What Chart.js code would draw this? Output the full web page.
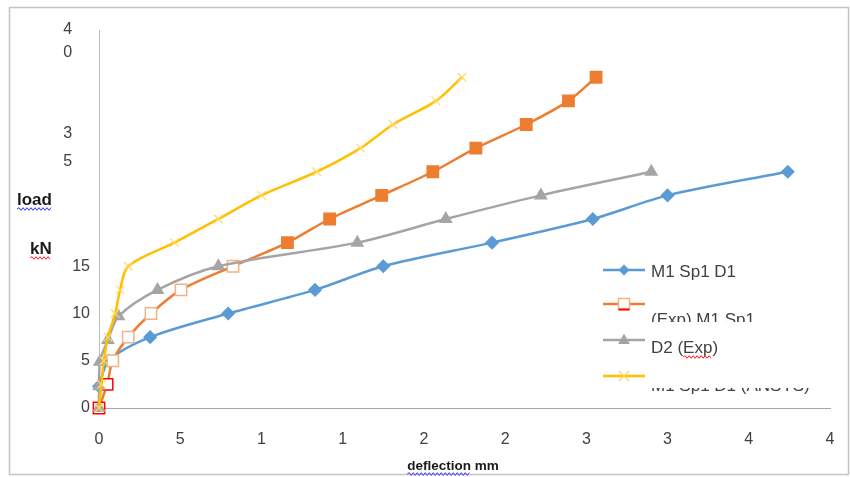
<!DOCTYPE html>
<html>
<head>
<meta charset="utf-8">
<script src="https://cdn.jsdelivr.net/npm/chart.js@4.4.1/dist/chart.umd.min.js"></script>
<style>
  html, body { margin: 0; padding: 0; background: #ffffff; }
  #wrap { width: 850px; height: 477px; }
</style>
</head>
<body>
<div id="wrap"><canvas id="chart" width="850" height="477"></canvas></div>
<script>
// Load (kN) against mid-span deflection (mm) for the four curves.
const seriesNames = ['M1 Sp1 D1', '(Exp) M1 Sp1', 'D2 (Exp)', 'M1 Sp1 D1 (ANSYS)'];

const m1Defl    = [0, 0.6, 3.15, 7.95, 13.3, 17.5, 24.2, 30.4, 35.0, 42.4];
const m1Load    = [2.3, 5, 7.5, 10, 12.5, 15, 17.5, 20, 22.5, 25];

const expDefl   = [0, 0.5, 0.85, 1.8, 3.2, 5.05, 8.25, 11.6, 14.2, 17.4, 20.55, 23.2, 26.3, 28.9, 30.6];
const expLoad   = [0, 2.5, 5, 7.5, 10, 12.5, 15, 17.5, 20, 22.5, 25, 27.5, 30, 32.5, 35];

const d2Defl    = [0, 0, 0.05, 0.55, 1.2, 3.6, 7.35, 15.9, 21.35, 27.2, 34.0];
const d2Load    = [0, 2.3, 4.9, 7.2, 9.7, 12.5, 15, 17.5, 20, 22.5, 25];

const ansysDefl = [0, 0.15, 0.3, 0.55, 1.0, 1.3, 1.8, 4.65, 7.35, 10.0, 13.4, 16.1, 18.1, 20.75, 22.35];
const ansysLoad = [0, 2.5, 5, 7.5, 10, 12.5, 15, 17.5, 20, 22.5, 25, 27.5, 30, 32.5, 35];

// Axis ticks (the y labels 20-30 are blank on this sheet)
const xTicks = [0, 5, 10, 15, 20, 25, 30, 35, 40, 45];
const yTickLabels = { 0: '0', 5: '5', 10: '10', 15: '15', 20: '', 25: '', 30: '', 35: '35', 40: '40' };
const axisTitles = { x: 'deflection mm', yTop: 'load', yBottom: 'kN' };

const BLUE = '#5B9BD5', ORANGE = '#ED7D31', GREY = '#A5A5A5', GOLD = '#FFC000';
const LIGHT_ORANGE = '#F4B183', RED = '#FF0000', LIGHT_GOLD = '#FFD966';
const TEXT = '#404040';
const FAMILY = "'Liberation Sans', Arial, sans-serif";

const pairs = (xs, ys) => xs.map((x, i) => ({ x, y: ys[i] }));

// experimental curve: early readings hollow, later ones filled
const expFill = expLoad.map((v, i) => (i < 7 ? '#ffffff' : ORANGE));
const expEdge = expLoad.map((v, i) => (i < 2 ? RED : i < 7 ? LIGHT_ORANGE : ORANGE));

// Wrapped two-digit labels: one digit per line, pushed down and left
function yLabel(value) {
  const t = yTickLabels[value];
  if (t === undefined) return '';
  if (value === 35) return ['', '', '', '', '', t[0] + '    ', t[1] + '    '];
  if (value === 40) return ['', t[0] + '    ', t[1] + '    '];
  return t;
}

function squiggle(ctx, x0, x1, y, color) {
  ctx.save();
  ctx.strokeStyle = color;
  ctx.lineWidth = 1;
  ctx.beginPath();
  let up = true;
  ctx.moveTo(x0, y);
  for (let x = x0 + 2; x <= x1; x += 2) {
    ctx.lineTo(x, up ? y - 1.3 : y + 1.3);
    up = !up;
  }
  ctx.stroke();
  ctx.restore();
}

function marker(ctx, kind, x, y) {
  ctx.save();
  ctx.lineWidth = 1.5;
  ctx.beginPath();
  if (kind === 'diamond') {
    const r = 5.5;
    ctx.moveTo(x, y - r); ctx.lineTo(x + r, y); ctx.lineTo(x, y + r); ctx.lineTo(x - r, y); ctx.closePath();
    ctx.fillStyle = BLUE; ctx.fill();
  } else if (kind === 'square') {
    const h = 5.5;
    ctx.rect(x - h, y - h, 2 * h, 2 * h);
    ctx.fillStyle = '#ffffff'; ctx.fill();
    ctx.strokeStyle = LIGHT_ORANGE; ctx.stroke();
    ctx.beginPath(); ctx.moveTo(x - h, y + h); ctx.lineTo(x + h, y + h);
    ctx.strokeStyle = RED; ctx.lineWidth = 2; ctx.stroke();
  } else if (kind === 'triangle') {
    const r = 6.5;
    ctx.moveTo(x, y - r); ctx.lineTo(x + r * 0.9, y + r * 0.6); ctx.lineTo(x - r * 0.9, y + r * 0.6); ctx.closePath();
    ctx.fillStyle = GREY; ctx.fill();
  } else if (kind === 'cross') {
    const r = 5;
    ctx.moveTo(x - r, y - r); ctx.lineTo(x + r, y + r);
    ctx.moveTo(x - r, y + r); ctx.lineTo(x + r, y - r);
    ctx.strokeStyle = LIGHT_GOLD; ctx.lineWidth = 1.2; ctx.stroke();
  }
  ctx.restore();
}

const sheet = {
  id: 'sheet',
  beforeDraw(chart) {
    const ctx = chart.ctx;
    ctx.save();
    ctx.fillStyle = '#ffffff';
    ctx.fillRect(0, 0, chart.width, chart.height);
    ctx.strokeStyle = '#C4C4C4';
    ctx.lineWidth = 1.5;
    ctx.strokeRect(9.5, 7.5, 839, 467);
    ctx.restore();
  },
  afterDraw(chart) {
    const ctx = chart.ctx;
    ctx.save();
    ctx.fillStyle = '#1a1a1a';
    ctx.textBaseline = 'alphabetic';
    ctx.textAlign = 'left';

    // axis titles
    ctx.font = 'bold 17px ' + FAMILY;
    ctx.fillText(axisTitles.yTop, 17, 205);
    squiggle(ctx, 17, 17 + ctx.measureText(axisTitles.yTop).width, 209, '#3333ff');
    ctx.fillText(axisTitles.yBottom, 30, 254);
    squiggle(ctx, 30, 30 + ctx.measureText(axisTitles.yBottom).width, 258, '#ff2020');

    ctx.font = 'bold 13.5px ' + FAMILY;
    const tw = ctx.measureText(axisTitles.x).width;
    const tx = 453 - tw / 2;
    ctx.fillText(axisTitles.x, tx, 470);
    squiggle(ctx, tx, tx + ctx.measureText(axisTitles.x.split(' ')[0]).width, 474, '#3333ff');

    // legend
    const rows = [
      { color: BLUE, kind: 'diamond', lineY: 270, textY: 277 },
      { color: ORANGE, kind: 'square', lineY: 304, textY: 325, clipBelow: 322 },
      { color: GREY, kind: 'triangle', lineY: 340, textY: 353 },
      { color: GOLD, kind: 'cross', lineY: 376, textY: 391, clipAbove: 388 }
    ];
    ctx.font = '17px ' + FAMILY;
    rows.forEach((r, i) => {
      ctx.save();
      ctx.strokeStyle = r.color;
      ctx.lineWidth = 2.5;
      ctx.beginPath();
      ctx.moveTo(603, r.lineY); ctx.lineTo(645, r.lineY);
      ctx.stroke();
      marker(ctx, r.kind, 624, r.lineY);
      ctx.beginPath();
      if (r.clipBelow) ctx.rect(640, 0, 210, r.clipBelow);
      else if (r.clipAbove) ctx.rect(640, r.clipAbove, 210, 477 - r.clipAbove);
      else ctx.rect(0, 0, 850, 477);
      ctx.clip();
      ctx.fillStyle = TEXT;
      ctx.fillText(seriesNames[i], 651, r.textY);
      ctx.restore();
    });
    // spelling mark under "Exp" of the third entry
    const pre = ctx.measureText('D2 (').width;
    const exp = ctx.measureText('Exp').width;
    squiggle(ctx, 651 + pre, 651 + pre + exp, 357, '#ff2020');
    ctx.restore();
  }
};

const common = { borderWidth: 2.5, tension: 0.3, clip: false, pointBorderWidth: 1.5 };

new Chart(document.getElementById('chart'), {
  type: 'line',
  data: {
    datasets: [
      Object.assign({}, common, {
        label: seriesNames[0], data: pairs(m1Defl, m1Load), order: 3,
        borderColor: BLUE, pointStyle: 'rectRot', pointRadius: 6,
        pointBackgroundColor: BLUE, pointBorderColor: BLUE
      }),
      Object.assign({}, common, {
        label: seriesNames[1], data: pairs(expDefl, expLoad), order: 2,
        borderColor: ORANGE, pointStyle: 'rect', pointRadius: 8,
        pointBackgroundColor: expFill, pointBorderColor: expEdge
      }),
      Object.assign({}, common, {
        label: seriesNames[2], data: pairs(d2Defl, d2Load), order: 1,
        borderColor: GREY, pointStyle: 'triangle', pointRadius: 6.5,
        pointBackgroundColor: GREY, pointBorderColor: GREY
      }),
      Object.assign({}, common, {
        label: seriesNames[3], data: pairs(ansysDefl, ansysLoad), order: 0,
        borderColor: GOLD, pointStyle: 'crossRot', pointRadius: 6,
        pointBackgroundColor: LIGHT_GOLD, pointBorderColor: LIGHT_GOLD, pointBorderWidth: 1.2
      })
    ]
  },
  options: {
    responsive: false,
    animation: false,
    devicePixelRatio: 1,
    layout: { padding: { left: 0, top: 30, right: 20, bottom: 0 } },
    plugins: { legend: { display: false }, tooltip: { enabled: false } },
    scales: {
      x: {
        type: 'linear', min: xTicks[0], max: xTicks[xTicks.length - 1],
        afterBuildTicks: s => { s.ticks = xTicks.map(v => ({ value: v })); },
        ticks: {
          autoSkip: false, maxRotation: 0, padding: 22, color: TEXT,
          font: { family: FAMILY, size: 16 },
          callback: v => String(v).charAt(0)
        },
        grid: { display: false, drawTicks: false },
        border: { display: true, color: '#A6A6A6', width: 1 },
        afterFit: s => { s.height = 69; s.paddingLeft = 0; s.paddingRight = 0; }
      },
      y: {
        min: 0, max: 40,
        ticks: {
          stepSize: 5, padding: 9, color: TEXT, autoSkip: false,
          font: c => ({
            family: FAMILY, size: 16,
            lineHeight: c.tick && c.tick.value === 35 ? 1.75 : c.tick && c.tick.value === 40 ? 1.4 : 1.2
          }),
          callback: v => yLabel(v)
        },
        grid: { display: false, drawTicks: false },
        border: { display: true, color: '#BFBFBF', width: 1 },
        afterFit: s => { s.width = 99; s.paddingTop = 0; s.paddingBottom = 0; }
      }
    }
  },
  plugins: [sheet]
});
</script>
</body>
</html>
